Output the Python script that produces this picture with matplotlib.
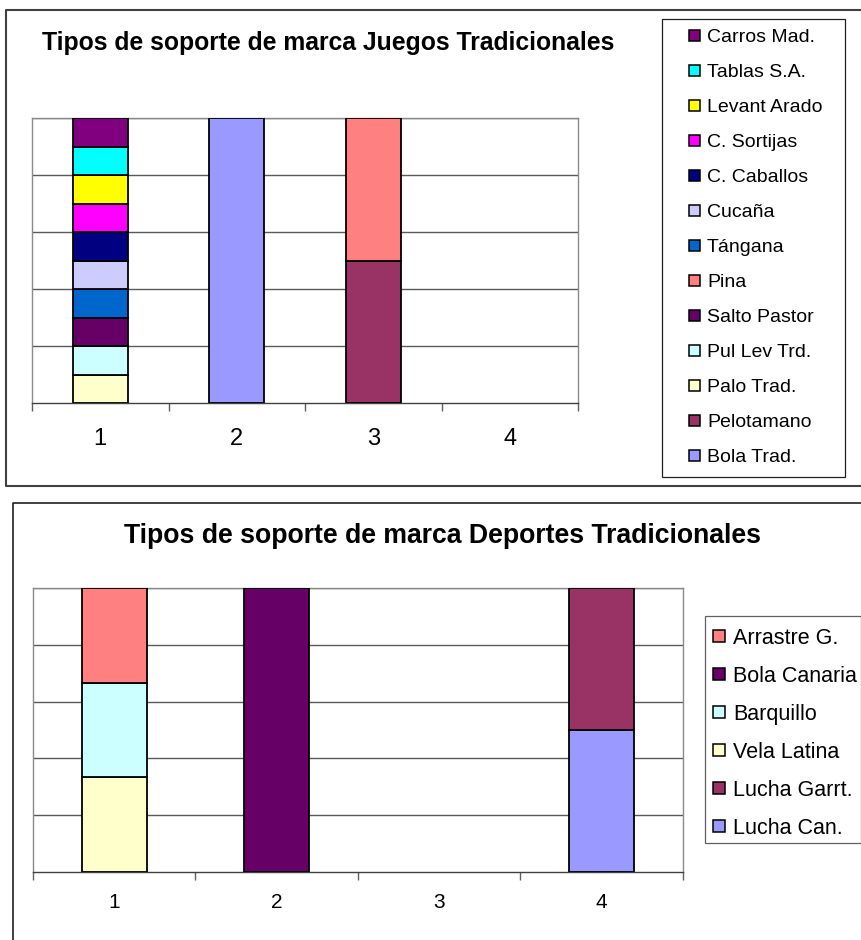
import numpy as np
import matplotlib
matplotlib.use("Agg")
import matplotlib.pyplot as plt
import matplotlib.patches as patches

plt.rcParams["font.family"] = ["Liberation Sans", "DejaVu Sans"]

W, H = 862, 940

categories = ["1", "2", "3", "4"]

# juegos tradicionales, series listed from the bottom of the stack upwards
juegos_names = [
    "Bola Trad.", "Pelotamano", "Palo Trad.", "Pul Lev Trd.", "Salto Pastor",
    "Pina", "Tángana", "Cucaña", "C. Caballos", "C. Sortijas",
    "Levant Arado", "Tablas S.A.", "Carros Mad.",
]
juegos_values = [
    [0, 1, 0, 0],
    [0, 0, 1, 0],
    [1, 0, 0, 0],
    [1, 0, 0, 0],
    [1, 0, 0, 0],
    [0, 0, 1, 0],
    [1, 0, 0, 0],
    [1, 0, 0, 0],
    [1, 0, 0, 0],
    [1, 0, 0, 0],
    [1, 0, 0, 0],
    [1, 0, 0, 0],
    [1, 0, 0, 0],
]
juegos_colors = [
    "#9999FF", "#993366", "#FFFFCC", "#CCFFFF", "#660066",
    "#FF8080", "#0066CC", "#CCCCFF", "#000080", "#FF00FF",
    "#FFFF00", "#00FFFF", "#800080",
]

# deportes tradicionales
deportes_names = [
    "Lucha Can.", "Lucha Garrt.", "Vela Latina", "Barquillo",
    "Bola Canaria", "Arrastre G.",
]
deportes_values = [
    [0, 0, 0, 1],
    [0, 0, 0, 1],
    [1, 0, 0, 0],
    [1, 0, 0, 0],
    [0, 1, 0, 0],
    [1, 0, 0, 0],
]
deportes_colors = ["#9999FF", "#993366", "#FFFFCC", "#CCFFFF", "#660066", "#FF8080"]


def px_axes(fig, left, top, right, bottom):
    return fig.add_axes([left / W, 1 - bottom / H, (right - left) / W, (bottom - top) / H])


def stacked_percent(ax, values, colors, label_size, label_pad):
    vals = np.array(values, dtype=float)
    shares = vals / vals.sum(axis=0)
    x = np.arange(1, len(categories) + 1)
    base = np.zeros(len(categories))
    for row, color in zip(shares, colors):
        for i in range(len(categories)):
            if row[i] > 0:
                ax.bar(x[i], row[i], width=0.4, bottom=base[i], color=color,
                       edgecolor="black", linewidth=1.3, zorder=3)
        base += row
    ax.set_xlim(0.5, len(categories) + 0.5)
    ax.set_ylim(0, 1)
    for y in np.arange(0.2, 1.01, 0.2):
        ax.axhline(y, color="#5a5a5a", lw=1.0, zorder=1)
    ax.set_yticks([])
    ax.set_xticks(np.arange(0.5, len(categories) + 1))
    ax.set_xticklabels([])
    ax.set_xticks(x, minor=True)
    ax.set_xticklabels(categories, minor=True, fontsize=label_size)
    ax.tick_params(axis="x", which="major", length=6, width=1, color="#606060",
                   direction="out")
    ax.tick_params(axis="x", which="minor", length=0, pad=label_pad)
    for side in ("left", "right", "top"):
        ax.spines[side].set_color("#8a8a8a")
        ax.spines[side].set_linewidth(1.0)
    ax.spines["bottom"].set_color("#404040")
    ax.spines["bottom"].set_linewidth(1.0)


def legend_box(ov, names, colors, box, x_mark, x_text, y_first, step, size, font, edge):
    left, top, right, bottom = box
    ov.add_patch(patches.Rectangle((left, top), right - left, bottom - top,
                                   facecolor="white", edgecolor=edge, lw=0.9))
    for k, (name, color) in enumerate(zip(names[::-1], colors[::-1])):
        cy = y_first + k * step
        ov.add_patch(patches.Rectangle((x_mark, cy - size / 2), size, size,
                                       facecolor=color, edgecolor="black", lw=1.1))
        ov.text(x_text, cy + font * 1.389 * 0.716 / 2, name, fontsize=font,
                va="baseline", ha="left")


fig = plt.figure(figsize=(W / 100, H / 100), dpi=100)

# full-figure overlay in pixel units for frames, titles and legends
ov = fig.add_axes([0, 0, 1, 1])
ov.set_xlim(0, W)
ov.set_ylim(H, 0)
ov.axis("off")

ov.plot([W + 5, 6.5, 6.5, W + 5], [10, 10, 485.5, 485.5], color="#404040", lw=1.5)
ov.plot([W + 5, 13, 13], [503, 503, H + 5], color="#202020", lw=1.2)

ov.text(328, 50, "Tipos de soporte de marca Juegos Tradicionales",
        fontsize=17.8, fontweight="bold", ha="center", va="baseline")
ov.text(443, 543, "Tipos de soporte de marca Deportes Tradicionales",
        fontsize=19.2, fontweight="bold", ha="center", va="baseline")

legend_box(ov, juegos_names, juegos_colors, (662, 19, 845, 477),
           689, 707, 35, 35, 11, 14, "#202020")
legend_box(ov, deportes_names, deportes_colors, (705, 616, 861, 843),
           713, 733, 636, 38, 12, 15.5, "#606060")

ax_top = px_axes(fig, 32, 118, 578, 403)
stacked_percent(ax_top, juegos_values, juegos_colors, 17, 18)

ax_bot = px_axes(fig, 33, 588, 683, 872)
stacked_percent(ax_bot, deportes_values, deportes_colors, 15, 15)

fig.savefig("out.png", dpi=100)
